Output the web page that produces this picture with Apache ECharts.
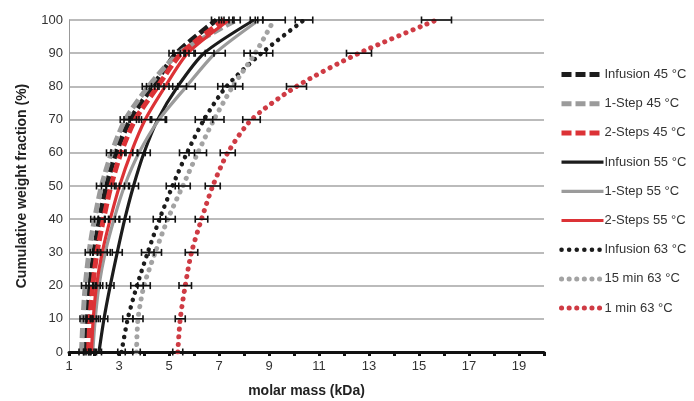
<!DOCTYPE html>
<html>
<head>
<meta charset="utf-8">
<script src="https://cdn.jsdelivr.net/npm/echarts@6/dist/echarts.min.js"></script>
<style>
html,body{margin:0;padding:0;background:#fff;}
#chart{width:694px;height:401px;}
</style>
</head>
<body>
<div id="chart"></div>
<script>
// Cumulative weight fraction levels (%)
const fractions = [0, 10, 20, 30, 40, 50, 60, 70, 80, 90, 100];

// Molar mass (kDa) at each fraction level
const infusion45 = [1.68, 1.73, 1.83, 2.00, 2.22, 2.50, 2.88, 3.45, 4.35, 5.30, 6.90];
const oneStep45  = [1.50, 1.56, 1.65, 1.80, 2.02, 2.30, 2.70, 3.25, 4.18, 5.40, 7.70];
const twoSteps45 = [1.78, 1.84, 1.95, 2.12, 2.38, 2.68, 3.08, 3.65, 4.55, 5.50, 7.20];
const infusion55 = [2.20, 2.40, 2.65, 2.93, 3.23, 3.58, 4.00, 4.55, 5.35, 6.40, 8.40];
const oneStep55  = [1.95, 2.05, 2.20, 2.45, 2.80, 3.22, 3.80, 4.60, 5.70, 6.85, 8.60];
const twoSteps55 = [1.90, 1.97, 2.10, 2.33, 2.65, 3.02, 3.48, 4.05, 4.85, 5.75, 7.40];
const infusion63 = [3.10, 3.35, 3.72, 4.15, 4.62, 5.14, 5.72, 6.40, 7.30, 8.70, 10.40];
const min15_63   = [3.70, 3.76, 4.00, 4.45, 4.95, 5.55, 6.15, 6.80, 7.55, 8.45, 9.20];
const min1_63    = [5.35, 5.45, 5.65, 5.90, 6.30, 6.75, 7.35, 8.30, 10.10, 12.60, 15.70];

// Error half-widths (kDa)
const errInfusion45 = [0.10, 0.15, 0.15, 0.15, 0.20, 0.20, 0.20, 0.25, 0.25, 0.30, 0.20];
const errOneStep45  = [0.10, 0.12, 0.15, 0.15, 0.15, 0.20, 0.20, 0.20, 0.25, 0.25, 0.15];
const errTwoSteps45 = [0.10, 0.12, 0.15, 0.15, 0.20, 0.20, 0.20, 0.25, 0.25, 0.30, 0.20];
const errInfusion55 = [0.10, 0.15, 0.15, 0.20, 0.20, 0.20, 0.25, 0.30, 0.35, 0.40, 0.15];
const errOneStep55  = [0.10, 0.12, 0.15, 0.20, 0.20, 0.20, 0.25, 0.30, 0.35, 0.40, 0.15];
const errTwoSteps55 = [0.10, 0.12, 0.15, 0.20, 0.20, 0.20, 0.25, 0.25, 0.30, 0.30, 0.20];
const errInfusion63 = [0.15, 0.20, 0.25, 0.25, 0.25, 0.25, 0.30, 0.35, 0.35, 0.45, 0.35];
const errMin15_63   = [0.15, 0.20, 0.25, 0.25, 0.30, 0.30, 0.35, 0.40, 0.40, 0.45, 0.45];
const errMin1_63    = [0.20, 0.20, 0.25, 0.25, 0.25, 0.30, 0.30, 0.35, 0.40, 0.50, 0.60];

// Axis tick labels
const xTickLabels = [1, 3, 5, 7, 9, 11, 13, 15, 17, 19];

const seriesNames = ['Infusion 45 °C', '1-Step 45 °C', '2-Steps 45 °C',
  'Infusion 55 °C', '1-Step 55 °C', '2-Steps 55 °C',
  'Infusion 63 °C', '15 min 63 °C', '1 min 63 °C'];
const seriesValues = [infusion45, oneStep45, twoSteps45, infusion55, oneStep55, twoSteps55, infusion63, min15_63, min1_63];
const seriesErrors = [errInfusion45, errOneStep45, errTwoSteps45, errInfusion55, errOneStep55, errTwoSteps55, errInfusion63, errMin15_63, errMin1_63];

const BLACK = '#1c1c1c', GRAY = '#9b9b9b', RED = '#dc3236', RED_DOT = '#cf3b44';
const styles = [
  {color: BLACK, type: [10, 4], width: 5, cap: 'butt'},
  {color: GRAY, type: [10, 4], width: 5, cap: 'butt'},
  {color: RED, type: [10, 4], width: 5, cap: 'butt'},
  {color: BLACK, type: 'solid', width: 3.2},
  {color: GRAY, type: 'solid', width: 3.2},
  {color: RED, type: 'solid', width: 3.2},
  {color: BLACK, type: [0.1, 7.5], width: 4.5, cap: 'round'},
  {color: '#a3a3a3', type: [0.1, 7.5], width: 5, cap: 'round'},
  {color: RED_DOT, type: [0.1, 7.5], width: 5, cap: 'round'}
];

const chart = echarts.init(document.getElementById('chart'), null, {renderer: 'canvas'});

const series = [];
seriesNames.forEach((name, i) => {
  const vals = seriesValues[i];
  series.push({
    name: name,
    type: 'line',
    smooth: 0.25,
    symbol: 'none',
    z: 2,
    color: styles[i].color,
    lineStyle: {color: styles[i].color, width: styles[i].width, type: styles[i].type, cap: styles[i].cap || 'butt'},
    data: vals.map((x, k) => [x, fractions[k]])
  });
});
seriesNames.forEach((name, i) => {
  const vals = seriesValues[i];
  const errs = seriesErrors[i];
  series.push({
    type: 'custom',
    z: 3,
    silent: true,
    data: vals.map((x, k) => [x, fractions[k], errs[k]]),
    renderItem: function (params, api) {
      const x = api.value(0), y = api.value(1), e = api.value(2);
      const p1 = api.coord([x - e, y]);
      const p2 = api.coord([x + e, y]);
      const h = 3.5;
      const st = {stroke: '#111', lineWidth: 1.6};
      return {
        type: 'group',
        children: [
          {type: 'line', shape: {x1: p1[0], y1: p1[1], x2: p2[0], y2: p2[1]}, style: st},
          {type: 'line', shape: {x1: p1[0], y1: p1[1] - h, x2: p1[0], y2: p1[1] + h}, style: st},
          {type: 'line', shape: {x1: p2[0], y1: p2[1] - h, x2: p2[0], y2: p2[1] + h}, style: st}
        ]
      };
    }
  });
});

chart.setOption({
  animation: false,
  backgroundColor: '#fff',
  textStyle: {fontFamily: 'Liberation Sans, Arial, sans-serif'},
  grid: {left: 69, right: 150, top: 20, bottom: 49, containLabel: false, outerBoundsMode: 'none'},
  legend: {
    orient: 'vertical',
    left: 554,
    top: 63,
    itemWidth: 42,
    itemHeight: 14,
    itemGap: 16.2,
    itemStyle: {opacity: 0},
    data: seriesNames.map((n, i) => ({
      name: n,
      itemStyle: {opacity: 0},
      lineStyle: {color: styles[i].color, width: styles[i].width, type: styles[i].type, cap: styles[i].cap || 'butt'}
    })),
    textStyle: {fontSize: 13, color: '#333', padding: [0, 0, 0, -4]}
  },
  xAxis: {
    type: 'value',
    min: 1,
    max: 20,
    interval: 1,
    name: 'molar mass (kDa)',
    nameLocation: 'middle',
    nameGap: 32,
    nameTextStyle: {fontSize: 14, fontWeight: 'bold', color: '#222'},
    axisLine: {lineStyle: {color: '#111', width: 3}},
    axisTick: {show: true, length: 4, lineStyle: {color: '#111', width: 3}},
    axisLabel: {
      fontSize: 13, color: '#333', margin: 8,
      formatter: v => (xTickLabels.indexOf(v) >= 0 ? String(v) : '')
    },
    splitLine: {show: false}
  },
  yAxis: {
    type: 'value',
    min: 0,
    max: 100,
    interval: 10,
    name: 'Cumulative weight fraction (%)',
    nameLocation: 'middle',
    nameGap: 40,
    nameTextStyle: {fontSize: 14, fontWeight: 'bold', color: '#222'},
    axisLine: {show: true, lineStyle: {color: '#999', width: 1}},
    axisTick: {show: false},
    axisLabel: {fontSize: 13, color: '#333', margin: 6},
    splitLine: {lineStyle: {color: '#a5a5a5', width: 1.5}}
  },
  series: series
});
</script>
</body>
</html>
